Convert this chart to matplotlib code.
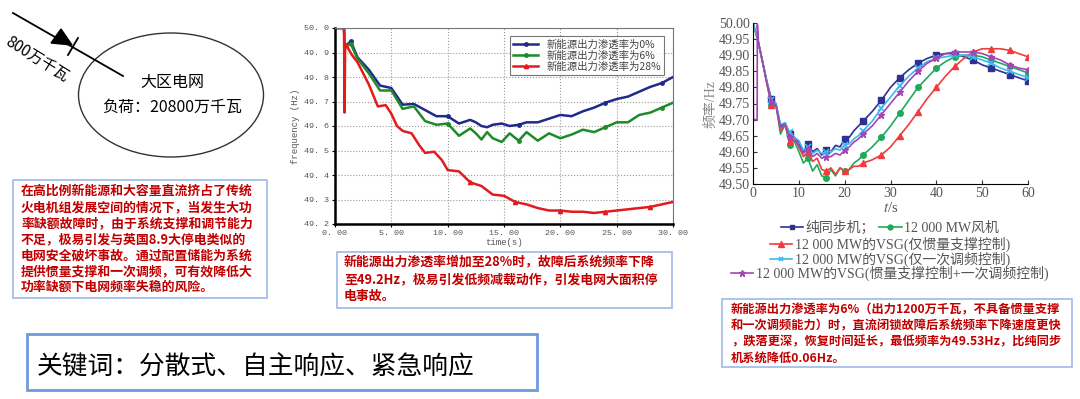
import matplotlib
matplotlib.use("Agg")
import matplotlib.pyplot as plt
from matplotlib.lines import Line2D
from matplotlib.patches import Ellipse, Polygon, Rectangle

plt.rcParams["font.family"] = ["Noto Sans CJK SC", "DejaVu Sans"]
plt.rcParams["mathtext.fontset"] = "stix"

W, H = 1080, 399

# ---- middle chart: frequency vs time for three renewable penetrations ----
t_mid = [0.0, 0.8, 0.85, 1.0, 1.4, 2, 3, 4, 5, 6, 7, 8, 9, 10, 11, 12, 12.5, 13,
         13.5, 14, 14.8, 15.5, 16.3, 17, 18, 19, 20, 21, 22, 23, 24, 25, 26, 27,
         28, 29, 30]
f_0pct = [50.0, 50.0, 49.93, 49.93, 49.945, 49.88, 49.83, 49.765, 49.755, 49.687,
          49.69, 49.665, 49.64, 49.64, 49.61, 49.625, 49.615, 49.60, 49.595, 49.605,
          49.61, 49.60, 49.605, 49.615, 49.615, 49.63, 49.645, 49.64, 49.66, 49.675,
          49.695, 49.71, 49.72, 49.74, 49.76, 49.775, 49.80]
f_6pct = [50.0, 50.0, 49.93, 49.93, 49.935, 49.875, 49.815, 49.745, 49.745, 49.67,
          49.68, 49.62, 49.605, 49.61, 49.56, 49.59, 49.57, 49.545, 49.575, 49.55,
          49.535, 49.57, 49.54, 49.575, 49.54, 49.57, 49.55, 49.565, 49.585, 49.575,
          49.595, 49.615, 49.615, 49.645, 49.655, 49.675, 49.695]
t_red = [0.0, 0.8, 0.85, 0.9, 1.0, 1.5, 2, 3, 3.8, 4.5, 5, 5.5, 6, 6.8, 7.5, 8, 8.8,
         9.5, 10, 11, 12, 13, 14, 15, 16, 17, 18, 19, 20, 21, 22, 23, 24, 25, 26,
         27, 28, 29, 30]
f_28pct = [50.0, 50.0, 49.655, 49.93, 49.93, 49.89, 49.86, 49.77, 49.68, 49.685,
           49.65, 49.60, 49.58, 49.57, 49.52, 49.49, 49.495, 49.46, 49.42, 49.415,
           49.37, 49.355, 49.32, 49.315, 49.29, 49.28, 49.265, 49.255, 49.255, 49.25,
           49.25, 49.245, 49.25, 49.255, 49.26, 49.265, 49.27, 49.28, 49.29]
mid_labels = ["新能源出力渗透率为0%", "新能源出力渗透率为6%", "新能源出力渗透率为28%"]

# ---- right chart: frequency vs time for five control schemes ----
t_right = [0, 1, 2, 3, 4, 5, 6, 7, 8, 9, 10, 11, 12, 13, 14, 15, 16, 17, 18, 19, 20,
           21, 22, 23, 24, 26, 28, 30, 32, 34, 36, 38, 40, 42, 44, 46, 48, 50, 52,
           54, 56, 58, 60]
f_sync = [50.0, 49.95, 49.885, 49.82, 49.765, 49.75, 49.68, 49.69, 49.655, 49.645,
          49.63, 49.60, 49.625, 49.60, 49.61, 49.59, 49.605, 49.60, 49.62, 49.615,
          49.64, 49.645, 49.665, 49.68, 49.695, 49.725, 49.76, 49.80, 49.83, 49.855,
          49.875, 49.89, 49.90, 49.905, 49.905, 49.895, 49.885, 49.87, 49.86, 49.85,
          49.84, 49.83, 49.82]
f_wind = [50.0, 49.95, 49.885, 49.815, 49.745, 49.745, 49.655, 49.685, 49.62, 49.635,
          49.60, 49.565, 49.58, 49.54, 49.56, 49.525, 49.52, 49.545, 49.525, 49.55,
          49.54, 49.545, 49.565, 49.575, 49.59, 49.615, 49.645, 49.68, 49.72, 49.76,
          49.80, 49.83, 49.86, 49.88, 49.895, 49.90, 49.90, 49.895, 49.885, 49.875,
          49.865, 49.855, 49.845]
f_vsg_inertia = [50.0, 49.95, 49.885, 49.815, 49.745, 49.75, 49.665, 49.685, 49.635,
                 49.645, 49.615, 49.585, 49.60, 49.57, 49.58, 49.545, 49.54, 49.55,
                 49.53, 49.55, 49.54, 49.545, 49.555, 49.555, 49.565, 49.575, 49.59,
                 49.615, 49.65, 49.685, 49.725, 49.765, 49.80, 49.835, 49.865, 49.89,
                 49.91, 49.92, 49.92, 49.92, 49.915, 49.905, 49.895]
f_vsg_primary = [50.0, 49.95, 49.885, 49.82, 49.76, 49.75, 49.685, 49.69, 49.66, 49.645,
                 49.635, 49.605, 49.615, 49.595, 49.605, 49.595, 49.60, 49.60, 49.61,
                 49.605, 49.62, 49.625, 49.64, 49.65, 49.665, 49.695, 49.735, 49.77,
                 49.805, 49.835, 49.86, 49.88, 49.89, 49.895, 49.90, 49.90, 49.895,
                 49.885, 49.875, 49.86, 49.85, 49.84, 49.83]
t_purple = [0, 0.1, 0.9, 0.95, 1.2, 2, 3, 4, 5, 6, 7, 8, 9, 10, 11, 12, 13, 14, 15, 16,
            17, 18, 19, 20, 21, 22, 23, 24, 26, 28, 30, 32, 34, 36, 38, 40, 42, 44, 46,
            48, 50, 52, 54, 56, 58, 60]
f_vsg_both = [50.0, 49.70, 49.70, 49.995, 49.94, 49.885, 49.815, 49.755, 49.745, 49.675,
              49.685, 49.645, 49.635, 49.62, 49.595, 49.61, 49.585, 49.595, 49.58,
              49.585, 49.585, 49.595, 49.59, 49.605, 49.615, 49.63, 49.64, 49.655,
              49.68, 49.715, 49.75, 49.785, 49.82, 49.85, 49.875, 49.89, 49.905, 49.91,
              49.91, 49.91, 49.905, 49.895, 49.885, 49.87, 49.86, 49.855]
right_labels = ["纯同步机；", "12 000 MW风机", "12 000 MW的VSG(仅惯量支撑控制)",
                "12 000 MW的VSG(仅一次调频控制)",
                "12 000 MW的VSG(惯量支撑控制+一次调频控制)"]

left_note = ("在高比例新能源和大容量直流挤占了传统\n火电机组发展空间的情况下，当发生大功\n"
             "率缺额故障时，由于系统支撑和调节能力\n不足，极易引发与英国8.9大停电类似的\n"
             "电网安全破坏事故。通过配置储能为系统\n提供惯量支撑和一次调频，可有效降低大\n"
             "功率缺额下电网频率失稳的风险。")
mid_note = ("新能源出力渗透率增加至28%时，故障后系统频率下降\n"
            "至49.2Hz，极易引发低频减载动作，引发电网大面积停\n电事故。")
right_note = ("新能源出力渗透率为6%（出力1200万千瓦，不具备惯量支撑\n"
              "和一次调频能力）时，直流闭锁故障后系统频率下降速度更快\n"
              "，跌落更深，恢复时间延长，最低频率为49.53Hz，比纯同步\n"
              "机系统降低0.06Hz。")
keywords = "关键词：分散式、自主响应、紧急响应"

RED_TXT = "#C00000"
BOX_EDGE = "#9DB9E8"


def frac(x0, y0, x1, y1):
    """pixel box (top-left origin) -> figure fraction rect"""
    return [x0 / W, 1 - y1 / H, (x1 - x0) / W, (y1 - y0) / H]


fig = plt.figure(figsize=(W / 100, H / 100), dpi=100)

# overlay in pixel coordinates for the diagram and text boxes
bg = fig.add_axes([0, 0, 1, 1])
bg.set_xlim(0, W)
bg.set_ylim(H, 0)
bg.axis("off")

# grid diagram
bg.add_patch(Ellipse((171, 95), 185, 124, fill=False, ec="#333333", lw=1.0))
bg.plot([13, 123], [13, 76], color="black", lw=1.3)
bg.add_patch(Polygon([(51, 43), (61, 29), (72, 45)], closed=True, color="black"))
bg.plot([68, 78], [55, 38], color="black", lw=1.3)
bg.text(37, 60, "800万千瓦", rotation=-32, fontsize=11, ha="center", va="center")
bg.text(172, 83, "大区电网", fontsize=11.5, ha="center", va="center")
bg.text(172, 107, "负荷：20800万千瓦", fontsize=11.5, ha="center", va="center")

# text boxes
bg.add_patch(Rectangle((13, 180), 254, 118, fill=False, ec=BOX_EDGE, lw=1.2))
bg.text(21, 239, left_note, fontsize=9.3, color=RED_TXT, fontweight="bold",
        ha="left", va="center", linespacing=1.18)

bg.add_patch(Rectangle((337, 252), 335, 56, fill=False, ec=BOX_EDGE, lw=1.2))
bg.text(344, 279, mid_note, fontsize=9.3, color=RED_TXT, fontweight="bold",
        ha="left", va="center", linespacing=1.24)

bg.add_patch(Rectangle((722, 299), 350, 68, fill=False, ec=BOX_EDGE, lw=1.2))
bg.text(731, 334, right_note, fontsize=8.8, color=RED_TXT, fontweight="bold",
        ha="left", va="center", linespacing=1.3)

bg.add_patch(Rectangle((27, 334), 510, 56, fill=False, ec="#6F9BDC", lw=2.0))
bg.text(37, 368, keywords, fontsize=18.5, color="black", ha="left", va="center")

# middle chart
ax = fig.add_axes(frac(335, 28, 673, 224))
mono = "Liberation Mono"
ax.plot(t_mid, f_0pct, color="#1F2A8C", lw=1.8, marker="o", ms=2.5,
        markevery=[4, 13, 22, 30, 35], label=mid_labels[0])
ax.plot(t_mid, f_6pct, color="#1F8A2A", lw=1.8, marker="o", ms=2.5,
        markevery=[4, 13, 22, 30, 35], label=mid_labels[1])
ax.plot(t_red, f_28pct, color="#E41A1C", lw=1.8, marker="^", ms=3,
        markevery=[4, 20, 24, 28, 32, 36], label=mid_labels[2])
ax.set_xlim(0, 30)
ax.set_ylim(49.2, 50.0)
ax.set_xticks([0, 5, 10, 15, 20, 25, 30])
ax.set_xticklabels(["0. 00", "5. 00", "10. 00", "15. 00", "20. 00", "25. 00", "30. 00"],
                   family=mono, fontsize=6, color="#555555")
ax.set_yticks([49.2, 49.3, 49.4, 49.5, 49.6, 49.7, 49.8, 49.9, 50.0])
ax.set_yticklabels(["49. 2", "49. 3", "49. 4", "49. 5", "49. 6", "49. 7", "49. 8",
                    "49. 9", "50. 0"], family=mono, fontsize=6, color="#555555")
ax.tick_params(length=2, width=0.8, pad=2)
ax.grid(True, ls=":", color="#999999", lw=0.8)
for side in ("left", "bottom"):
    ax.spines[side].set_linewidth(1.8)
for side in ("top", "right"):
    ax.spines[side].set_linewidth(0.8)
    ax.spines[side].set_color("#777777")
ax.set_xlabel("time(s)", family=mono, fontsize=6.5, color="#555555", labelpad=1)
ax.set_ylabel("frequency (Hz)", family=mono, fontsize=6.5, color="#555555", labelpad=3)
leg = ax.legend(loc="upper right", fontsize=7.5, frameon=True, fancybox=False,
                edgecolor="#555555", handlelength=2.4, borderpad=0.3,
                labelspacing=0.1, bbox_to_anchor=(0.99, 0.985))
for txt in leg.get_texts():
    txt.set_color("#444444")
leg.get_frame().set_linewidth(0.8)

# right chart
serif = ["Liberation Serif", "Noto Sans CJK SC"]
ax2 = fig.add_axes(frac(753, 23, 1028, 184))
c_sync, c_wind, c_red, c_cyan, c_purple = "#2E3192", "#1DAA5A", "#F03C3C", "#3CB9F0", "#A345B5"
marks = [i for i, t in enumerate(t_right) if t > 0 and t % 4 == 0]
marks_p = [i for i, t in enumerate(t_purple) if t > 0 and t % 4 == 0]
ax2.plot(t_right, f_sync, color=c_sync, lw=1.2, marker="s", ms=4, markevery=marks)
ax2.plot(t_right, f_wind, color=c_wind, lw=1.2, marker="o", ms=4, markevery=marks)
ax2.plot(t_right, f_vsg_inertia, color=c_red, lw=1.2, marker="^", ms=4.5, markevery=marks)
ax2.plot(t_right, f_vsg_primary, color=c_cyan, lw=1.2, marker="x", ms=4, mew=1.2,
         markevery=marks)
ax2.plot(t_purple, f_vsg_both, color=c_purple, lw=1.2, marker="*", ms=5,
         markevery=marks_p)
ax2.set_xlim(0, 60)
ax2.set_ylim(49.5, 50.0)
ax2.set_xticks(range(0, 61, 10))
ax2.set_yticks([49.50, 49.55, 49.60, 49.65, 49.70, 49.75, 49.80, 49.85, 49.90, 49.95, 50.00])
ax2.yaxis.set_major_formatter(matplotlib.ticker.FormatStrFormatter("%.2f"))
for lab in ax2.get_xticklabels() + ax2.get_yticklabels():
    lab.set_family(serif)
    lab.set_fontsize(10)
    lab.set_color("#555555")
ax2.tick_params(direction="in", length=3, width=0.8, pad=2, colors="#333333",
                labelcolor="#555555")
ax2.spines["top"].set_visible(False)
ax2.spines["right"].set_visible(False)
ax2.set_xlabel("$t$/s", family=serif, fontsize=10.5, color="#555555", labelpad=1)
ax2.set_ylabel("频率/Hz", family=serif, fontsize=10, color="#888888", labelpad=1)

handles = [
    Line2D([], [], color=c_sync, marker="s", ms=3.5, lw=1.2),
    Line2D([], [], color=c_wind, marker="o", ms=3.5, lw=1.2),
    Line2D([], [], color=c_red, marker="^", ms=4, lw=1.2),
    Line2D([], [], color=c_cyan, marker="x", ms=3.5, mew=1.2, lw=1.2),
    Line2D([], [], color=c_purple, marker="*", ms=5, lw=1.2),
]
rows = [([0, 1], 228), ([2], 244), ([3], 259), ([4], 273)]
for idx, ypix in rows:
    lg = fig.legend([handles[i] for i in idx], [right_labels[i] for i in idx],
                    loc="center", bbox_to_anchor=(890 / W, 1 - ypix / H),
                    ncol=len(idx), frameon=False, handlelength=1.6,
                    handletextpad=0.2, columnspacing=0.3, borderpad=0,
                    prop={"family": serif, "size": 10})
    for txt in lg.get_texts():
        txt.set_color("#555555")

fig.savefig("out.png", dpi=100)
